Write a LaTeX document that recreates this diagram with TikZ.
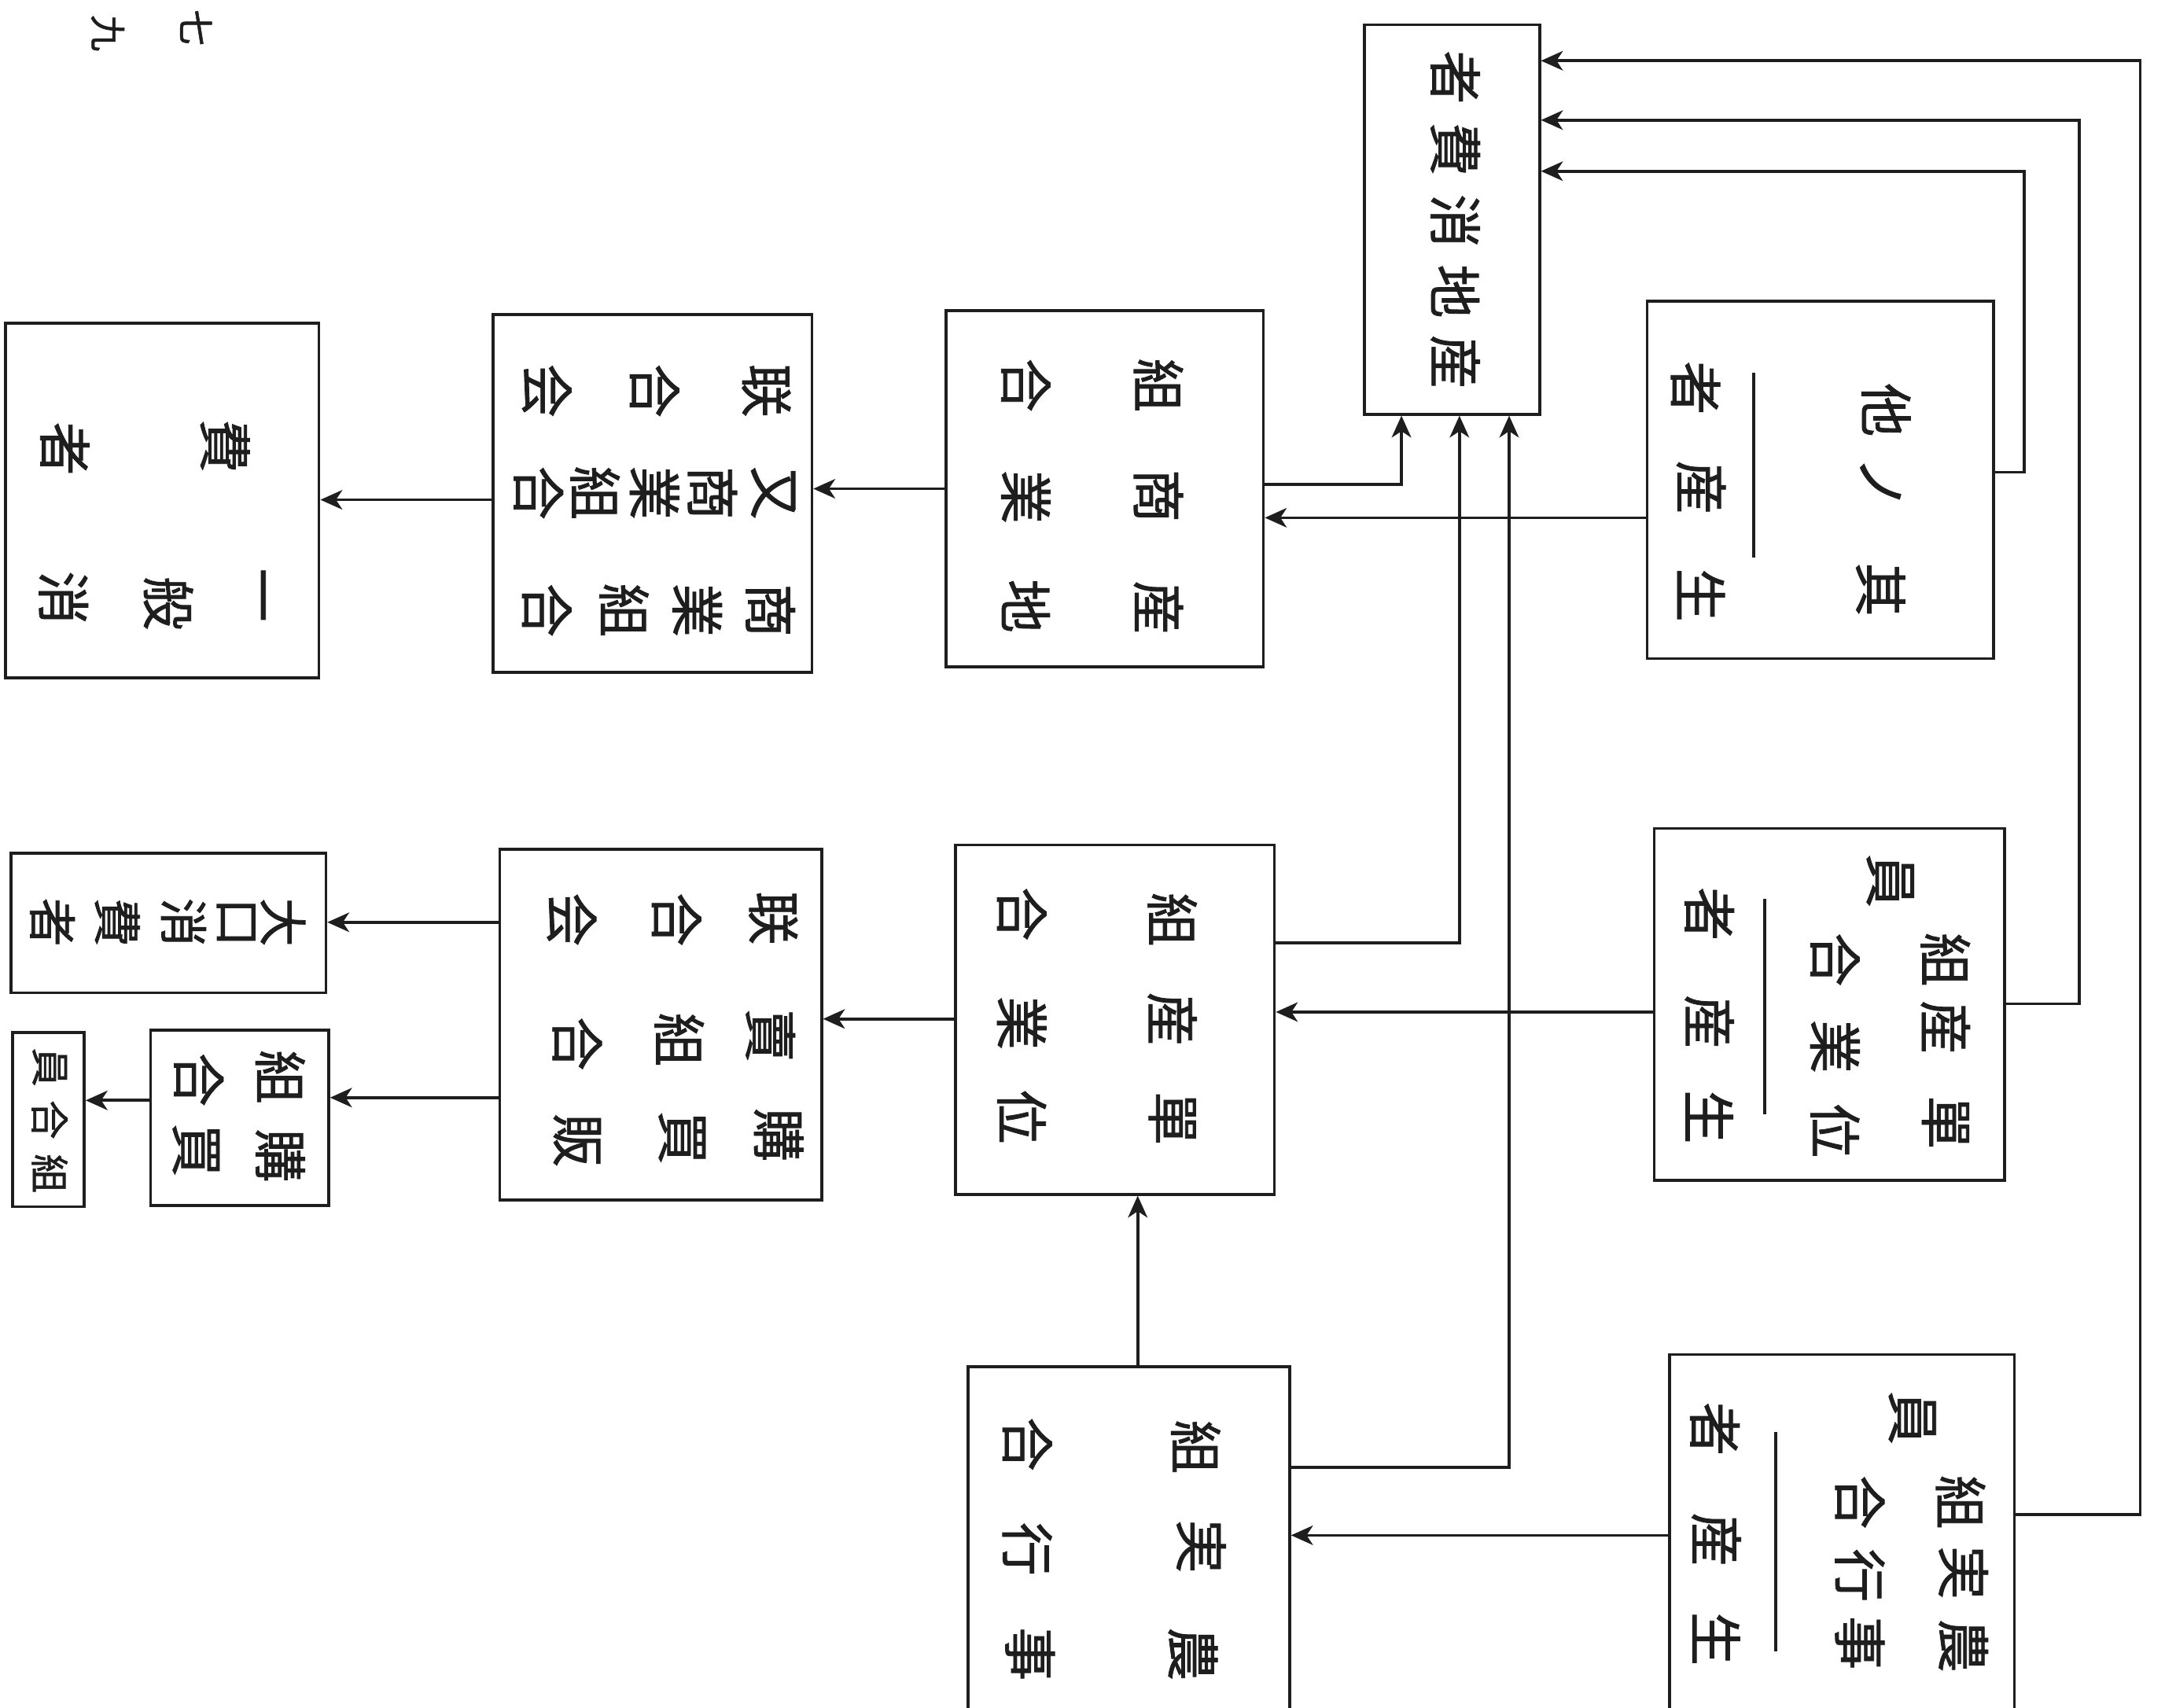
\documentclass[tikz,border=0pt]{standalone}
\usepackage{fontspec}
\newfontfamily\jp[FakeBold=1.2]{Noto Sans CJK JP}
\usetikzlibrary{arrows.meta,fit}
\definecolor{ink}{HTML}{1E1E1E}
\newcommand\jchars[3]{\foreach \jx/\jy/\jz [count=\jn] in {#3}{\node[#2] (#1-\jn) at (\jx,\jy) {\jz};}}
\begin{document}
\begin{tikzpicture}[x=0.01cm,y=-0.01cm,
  box/.style={draw=ink, line width=0.6pt, inner sep=0pt},
  jc/.style={rotate=-90, inner sep=0pt, text=ink, font=\jp\fontsize{11}{11}\selectfont},
  jcs/.style={jc, font=\jp\fontsize{10}{10}\selectfont},
  jct/.style={jc, font=\jp\fontsize{8}{8}\selectfont},
  jcp/.style={jc, font=\jp\fontsize{7.5}{7.5}\selectfont},
  link/.style={draw=ink, line width=0.6pt},
  arr/.style={link, -{Stealth[length=4.5pt,width=4pt,inset=1.3pt]}}]
\useasboundingbox (0,0) rectangle (1568,1237);
\fill[white] (0,0) rectangle (1568,1237);

% boxes
\node[box, fit={(988,18)(1115,300)}] (T) {};
\node[box, fit={(1193,218)(1444,477)}] (O) {};
\node[box, fit={(685,225)(915,483)}] (S) {};
\node[box, fit={(357,228)(588,487)}] (R) {};
\node[box, fit={(4,234)(231,491)}] (G) {};
\node[box, fit={(1198,600)(1452,855)}] (UP) {};
\node[box, fit={(692,612)(923,865)}] (U) {};
\node[box, fit={(362,615)(595,869)}] (K) {};
\node[box, fit={(8,618)(236,719)}] (D) {};
\node[box, fit={(109,746)(238,873)}] (KB) {};
\node[box, fit={(9,748)(61,874)}] (M) {};
\node[box, fit={(701,990)(934,1250)}] (N) {};
\node[box, fit={(1209,981)(1459,1250)}] (NP) {};

% dividers inside producer boxes
\draw[link] (1270,270) -- (1270,404);
\draw[link] (1278,651) -- (1278,807);
\draw[link] (1286,1037) -- (1286,1196);

% texts
\jchars{tc}{jc}{1054/56/者, 1054/108/費, 1054/160/消, 1054/211/地, 1054/262/産}
\jchars{oc}{jc}{1366/297/他, 1362/350/ノ, 1362/427/其, 1228/281/者, 1232/353/産, 1232/431/生}
\jchars{sc}{jc}{839/279/組, 839/359/商, 839/440/産, 743/279/合, 743/360/業, 743/439/地}
\jchars{rc}{jc}{555/283/联, 474/283/合, 396/283/会,
  560/357/又, 516/357/商, 474/357/業, 431/357/組, 390/357/合,
  558/442/商, 505/442/業, 452/442/組, 396/442/合}
\jchars{gc}{jc}{184/431/一, 122/437/般, 46/433/消, 163/323/費, 47/325/者}
\jchars{upc}{jc}{1409/813/單, 1329/819/位, 1409/744/産, 1329/758/業, 1409/695/組, 1329/695/合, 1369/638/員,
  1238/809/生, 1238/740/産, 1238/662/者}
\jchars{uc}{jc}{849/666/組, 849/738/産, 849/810/單, 740/662/合, 740/741/業, 740/809/位}
\jchars{kc}{jc}{560/665/联, 490/666/合, 414/666/会, 558/750/賣, 492/753/組, 418/756/合,
  564/822/購, 494/824/買, 418/826/販}
\jchars{dc}{jcs}{205/668/大, 171/668/口, 133/668/消, 85/668/費, 38/668/者}
\jchars{kbc}{jc}{203/780/組, 203/837/購, 144/782/合, 142/833/買}
\jchars{mc}{jct}{36/773/員, 36/811/合, 36/850/組}
\jchars{nc}{jc}{866/1048/組, 870/1120/実, 864/1198/農, 744/1046/合, 744/1122/行, 746/1198/事}
\jchars{npc}{jc}{1385/1027/員, 1420/1088/組, 1422/1139/実, 1422/1192/農,
  1347/1088/合, 1347/1141/行, 1347/1190/事,
  1242/1035/者, 1243/1115/産, 1243/1187/生}
\jchars{pg}{jcp}{142/20/七, 78/24/九}

% connectors
\draw[arr] (O.east |- 0,342) -| (1466,124) -- (T.east |- 0,124);
\draw[arr] (UP.east |- 0,727) -| (1506,87) -- (T.east |- 0,87);
\draw[arr] (NP.east |- 0,1097) -| (1550,44) -- (T.east |- 0,44);
\draw[arr] (S.east |- 0,351) -| (T.south -| 1015,0);
\draw[arr] (U.east |- 0,683) -| (T.south -| 1057,0);
\draw[arr] (N.east |- 0,1063) -| (T.south -| 1093,0);
\draw[arr] (O.west |- 0,375) -- (S.east |- 0,375);
\draw[arr] (S.west |- 0,354) -- (R.east |- 0,354);
\draw[arr] (R.west |- 0,362) -- (G.east |- 0,362);
\draw[arr] (UP.west |- 0,733) -- (U.east |- 0,733);
\draw[arr] (U.west |- 0,738) -- (K.east |- 0,738);
\draw[arr] (K.west |- 0,668) -- (D.east |- 0,668);
\draw[arr] (K.west |- 0,795) -- (KB.east |- 0,795);
\draw[arr] (KB.west |- 0,797) -- (M.east |- 0,797);
\draw[arr] (N.north -| 824,0) -- (U.south -| 824,0);
\draw[arr] (NP.west |- 0,1112) -- (N.east |- 0,1112);
\end{tikzpicture}
\end{document}
